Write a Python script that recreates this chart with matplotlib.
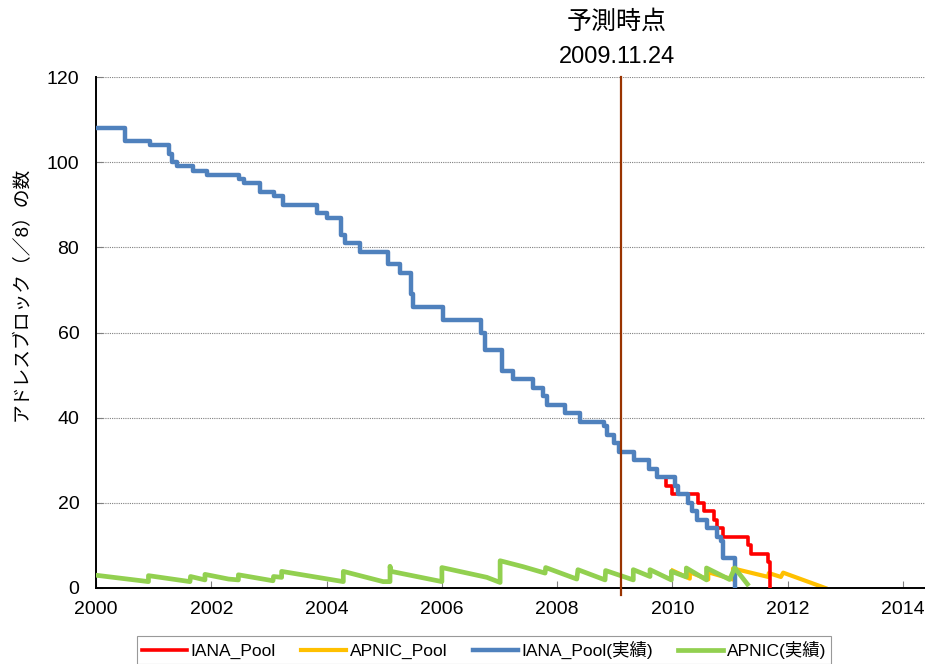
import matplotlib
matplotlib.use("Agg")
import matplotlib.pyplot as plt

plt.rcParams['font.family'] = ['Liberation Sans', 'Noto Sans CJK JP', 'DejaVu Sans']

# IANA_Pool(実績): 各ステップの開始時点と残り /8 ブロック数
iana_years = [2000.0, 2000.5, 2000.93, 2001.27, 2001.32, 2001.41, 2001.68, 2001.92,
              2002.48, 2002.57, 2002.85, 2003.09, 2003.25, 2003.83, 2004.0, 2004.25,
              2004.32, 2004.58, 2005.06, 2005.28, 2005.47, 2005.5, 2006.02, 2006.67,
              2006.75, 2007.04, 2007.24, 2007.58, 2007.75, 2007.82, 2008.14, 2008.40,
              2008.82, 2008.87, 2008.98, 2009.07, 2009.33, 2009.59, 2009.73, 2010.05,
              2010.09, 2010.27, 2010.34, 2010.43, 2010.60, 2010.78, 2010.84, 2010.87,
              2011.09]
iana_vals = [108, 105, 104, 102, 100, 99, 98, 97,
             96, 95, 93, 92, 90, 88, 87, 83,
             81, 79, 76, 74, 69, 66, 63, 60,
             56, 51, 49, 47, 45, 43, 41, 39,
             38, 36, 34, 32, 30, 28, 26, 24,
             22, 20, 18, 16, 14, 12, 11, 7,
             0]

# IANA_Pool 予測 (予測時点以降)
fc_years = [2009.88, 2009.99, 2010.45, 2010.55, 2010.72, 2010.78, 2010.87, 2011.31,
            2011.37, 2011.66, 2011.69]
fc_vals = [24, 22, 20, 18, 16, 14, 12, 10, 8, 6, 0]

# APNIC(実績)
apnic_years = [2000.0, 2000.91, 2000.91, 2001.63, 2001.64, 2001.89, 2001.89, 2002.30,
               2002.47, 2002.47, 2003.07, 2003.08, 2003.22, 2003.22, 2004.29, 2004.29,
               2004.98, 2005.10, 2005.10, 2005.12, 2006.0, 2006.0, 2006.78, 2007.01,
               2007.01, 2007.41, 2007.79, 2007.80, 2008.34, 2008.36, 2008.83, 2008.84,
               2009.32, 2009.32, 2009.61, 2009.61, 2009.98, 2009.98, 2010.24, 2010.24,
               2010.59, 2010.59, 2010.99, 2011.08, 2011.30]
apnic_vals = [3.0, 1.5, 2.9, 1.5, 2.7, 1.9, 3.2, 2.1,
              1.9, 3.1, 1.7, 2.7, 2.5, 3.9, 1.5, 3.9,
              1.5, 1.5, 5.1, 3.9, 1.5, 4.8, 2.5, 1.3,
              6.4, 5.0, 3.5, 4.8, 2.1, 4.3, 1.9, 4.1,
              1.9, 4.3, 2.7, 4.3, 1.9, 3.9, 2.6, 4.7,
              1.9, 4.7, 2.0, 4.7, 0.9]

# APNIC_Pool 予測
apool_years = [2010.0, 2010.30, 2010.30, 2010.62, 2010.62, 2011.05, 2011.05, 2011.66,
               2011.67, 2011.88, 2011.92, 2012.65]
apool_vals = [4.1, 2.2, 3.7, 2.0, 3.7, 2.0, 4.6, 2.6, 3.5, 2.6, 3.6, 0.0]

forecast_point = 2009.1
x_ticks = [2000, 2002, 2004, 2006, 2008, 2010, 2012, 2014]
y_ticks = [0, 20, 40, 60, 80, 100, 120]

# 予測線 = 予測開始前の実績 + 予測ステップ
red_years = [y for y in iana_years if y < fc_years[0]] + fc_years
red_vals = [v for y, v in zip(iana_years, iana_vals) if y < fc_years[0]] + fc_vals

fig = plt.figure(figsize=(9.25, 6.64), dpi=100)
ax = fig.add_axes([96 / 925, 1 - 588 / 664, 829 / 925, 511 / 664])

ax.step(red_years, red_vals, where='post', color='#FF0000', lw=2.6, label='IANA_Pool', zorder=3)
ax.plot(apool_years, apool_vals, color='#FFC000', lw=3.0, label='APNIC_Pool', zorder=2)
ax.step(iana_years, iana_vals, where='post', color='#4F81BD', lw=3.2, label='IANA_Pool(実績)', zorder=4)
ax.plot(apnic_years, apnic_vals, color='#92D050', lw=3.4, label='APNIC(実績)', zorder=5)
ax.plot([forecast_point, forecast_point], [-1.6, 120], color='#993300', lw=1.6,
        zorder=6, clip_on=False)

ax.set_xlim(2000, 2014.38)
ax.set_ylim(0, 120)
ax.set_xticks(x_ticks)
ax.set_yticks(y_ticks)
ax.grid(axis='y', color='#808080', linestyle=(0, (1, 1)), lw=0.8)
ax.set_axisbelow(True)
for s in ['top', 'right']:
    ax.spines[s].set_visible(False)
for s in ['left', 'bottom']:
    ax.spines[s].set_linewidth(1.4)
ax.tick_params(direction='in', length=5, color='#808080', labelsize=14)
ax.tick_params(axis='y', pad=12)
ax.tick_params(axis='x', pad=9)

ax.set_ylabel('アドレスブロック（／8）の数', fontsize=13.5)
ax.yaxis.set_label_coords(-0.078, 0.575)

fig.text(617 / 925, 1 - 22 / 664, '予測時点', fontsize=18, ha='center', va='center')
fig.text(617 / 925, 1 - 57 / 664, '2009.11.24', fontsize=17, ha='center', va='center')

leg = fig.legend(loc='center', bbox_to_anchor=(484 / 925, 1 - 650 / 664), ncol=4,
                 fontsize=12.5, frameon=True, fancybox=False, handlelength=2.6,
                 columnspacing=1.45, handletextpad=0.2, borderpad=0.3)
leg.get_frame().set_edgecolor('#808080')
leg.get_frame().set_linewidth(0.8)

fig.savefig('out.png', dpi=100)
